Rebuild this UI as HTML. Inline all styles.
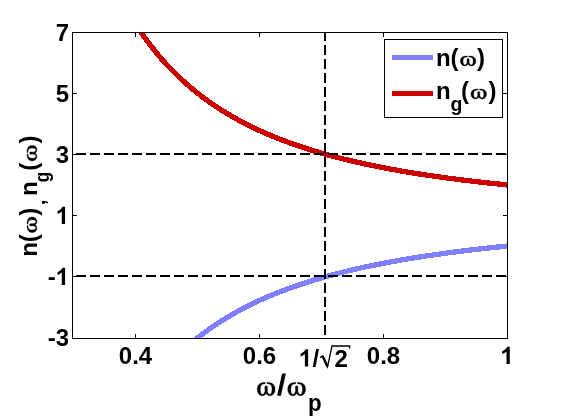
<!DOCTYPE html>
<html><head><meta charset="utf-8"><style>
html,body{margin:0;padding:0;background:#fff;}
body{width:561px;height:420px;overflow:hidden;position:relative;font-family:"Liberation Sans",sans-serif;}
svg{position:absolute;left:0;top:0;will-change:transform;}
text{font-family:"Liberation Sans",sans-serif;font-weight:bold;font-size:24px;fill:#000;}
</style></head><body>
<svg width="561" height="420" viewBox="0 0 561 420">
<rect width="561" height="420" fill="#fff"/>
<clipPath id="c"><rect x="73" y="33" width="434" height="305"/></clipPath>
<g clip-path="url(#c)" fill="none" stroke-width="5.3" stroke-linejoin="round" shape-rendering="crispEdges">
<path d="M191.80,342.53 L193.39,341.21 L194.98,339.91 L196.57,338.64 L198.16,337.38 L199.74,336.14 L201.33,334.92 L202.92,333.72 L204.51,332.53 L206.10,331.37 L207.69,330.22 L209.28,329.08 L210.87,327.97 L212.46,326.87 L214.05,325.79 L215.63,324.72 L217.22,323.67 L218.81,322.63 L220.40,321.61 L221.99,320.60 L223.58,319.61 L225.17,318.63 L226.76,317.67 L228.35,316.71 L229.93,315.78 L231.52,314.85 L233.11,313.94 L234.70,313.04 L236.29,312.15 L237.88,311.27 L239.47,310.41 L241.06,309.56 L242.65,308.72 L244.24,307.89 L245.82,307.07 L247.41,306.26 L249.00,305.46 L250.59,304.68 L252.18,303.90 L253.77,303.13 L255.36,302.38 L256.95,301.63 L258.54,300.89 L260.12,300.17 L261.71,299.45 L263.30,298.74 L264.89,298.04 L266.48,297.35 L268.07,296.66 L269.66,295.99 L271.25,295.32 L272.84,294.66 L274.43,294.01 L276.01,293.37 L277.60,292.74 L279.19,292.11 L280.78,291.49 L282.37,290.88 L283.96,290.28 L285.55,289.68 L287.14,289.09 L288.73,288.51 L290.31,287.94 L291.90,287.37 L293.49,286.80 L295.08,286.25 L296.67,285.70 L298.26,285.16 L299.85,284.62 L301.44,284.09 L303.03,283.57 L304.62,283.05 L306.20,282.54 L307.79,282.03 L309.38,281.53 L310.97,281.03 L312.56,280.54 L314.15,280.06 L315.74,279.58 L317.33,279.11 L318.92,278.64 L320.50,278.18 L322.09,277.72 L323.68,277.27 L325.27,276.82 L326.86,276.37 L328.45,275.94 L330.04,275.50 L331.63,275.07 L333.22,274.65 L334.81,274.23 L336.39,273.81 L337.98,273.40 L339.57,272.99 L341.16,272.59 L342.75,272.19 L344.34,271.80 L345.93,271.41 L347.52,271.02 L349.11,270.64 L350.69,270.26 L352.28,269.89 L353.87,269.52 L355.46,269.15 L357.05,268.79 L358.64,268.43 L360.23,268.08 L361.82,267.72 L363.41,267.37 L364.99,267.03 L366.58,266.69 L368.17,266.35 L369.76,266.01 L371.35,265.68 L372.94,265.35 L374.53,265.03 L376.12,264.71 L377.71,264.39 L379.30,264.07 L380.88,263.76 L382.47,263.45 L384.06,263.14 L385.65,262.84 L387.24,262.54 L388.83,262.24 L390.42,261.95 L392.01,261.65 L393.60,261.36 L395.18,261.08 L396.77,260.79 L398.36,260.51 L399.95,260.23 L401.54,259.96 L403.13,259.68 L404.72,259.41 L406.31,259.14 L407.90,258.88 L409.49,258.61 L411.07,258.35 L412.66,258.09 L414.25,257.83 L415.84,257.58 L417.43,257.33 L419.02,257.08 L420.61,256.83 L422.20,256.58 L423.79,256.34 L425.37,256.10 L426.96,255.86 L428.55,255.62 L430.14,255.39 L431.73,255.16 L433.32,254.93 L434.91,254.70 L436.50,254.47 L438.09,254.25 L439.68,254.02 L441.26,253.80 L442.85,253.58 L444.44,253.37 L446.03,253.15 L447.62,252.94 L449.21,252.72 L450.80,252.52 L452.39,252.31 L453.98,252.10 L455.56,251.90 L457.15,251.69 L458.74,251.49 L460.33,251.29 L461.92,251.09 L463.51,250.90 L465.10,250.70 L466.69,250.51 L468.28,250.32 L469.87,250.13 L471.45,249.94 L473.04,249.75 L474.63,249.57 L476.22,249.38 L477.81,249.20 L479.40,249.02 L480.99,248.84 L482.58,248.66 L484.17,248.49 L485.75,248.31 L487.34,248.14 L488.93,247.97 L490.52,247.80 L492.11,247.63 L493.70,247.46 L495.29,247.29 L496.88,247.12 L498.47,246.96 L500.06,246.80 L501.64,246.64 L503.23,246.47 L504.82,246.32 L506.41,246.16 L508.00,246.00" stroke="#8080ff"/>
<path d="M136.00,24.88 L137.56,27.25 L139.11,29.57 L140.67,31.86 L142.23,34.10 L143.78,36.30 L145.34,38.46 L146.90,40.58 L148.45,42.67 L150.01,44.71 L151.56,46.72 L153.12,48.70 L154.68,50.64 L156.23,52.55 L157.79,54.42 L159.35,56.27 L160.90,58.08 L162.46,59.86 L164.02,61.61 L165.57,63.33 L167.13,65.02 L168.69,66.69 L170.24,68.32 L171.80,69.93 L173.36,71.52 L174.91,73.08 L176.47,74.61 L178.03,76.12 L179.58,77.60 L181.14,79.06 L182.69,80.50 L184.25,81.91 L185.81,83.31 L187.36,84.68 L188.92,86.03 L190.48,87.36 L192.03,88.66 L193.59,89.95 L195.15,91.22 L196.70,92.47 L198.26,93.70 L199.82,94.92 L201.37,96.11 L202.93,97.29 L204.49,98.45 L206.04,99.59 L207.60,100.72 L209.15,101.83 L210.71,102.92 L212.27,104.00 L213.82,105.06 L215.38,106.11 L216.94,107.14 L218.49,108.16 L220.05,109.17 L221.61,110.16 L223.16,111.13 L224.72,112.09 L226.28,113.04 L227.83,113.98 L229.39,114.90 L230.95,115.81 L232.50,116.71 L234.06,117.60 L235.62,118.47 L237.17,119.34 L238.73,120.19 L240.28,121.03 L241.84,121.86 L243.40,122.68 L244.95,123.48 L246.51,124.28 L248.07,125.07 L249.62,125.85 L251.18,126.61 L252.74,127.37 L254.29,128.12 L255.85,128.86 L257.41,129.58 L258.96,130.30 L260.52,131.01 L262.08,131.72 L263.63,132.41 L265.19,133.09 L266.74,133.77 L268.30,134.44 L269.86,135.10 L271.41,135.75 L272.97,136.39 L274.53,137.03 L276.08,137.65 L277.64,138.28 L279.20,138.89 L280.75,139.49 L282.31,140.09 L283.87,140.69 L285.42,141.27 L286.98,141.85 L288.54,142.42 L290.09,142.98 L291.65,143.54 L293.21,144.09 L294.76,144.64 L296.32,145.18 L297.87,145.71 L299.43,146.24 L300.99,146.76 L302.54,147.28 L304.10,147.78 L305.66,148.29 L307.21,148.79 L308.77,149.28 L310.33,149.77 L311.88,150.25 L313.44,150.72 L315.00,151.20 L316.55,151.66 L318.11,152.12 L319.67,152.58 L321.22,153.03 L322.78,153.48 L324.33,153.92 L325.89,154.36 L327.45,154.79 L329.00,155.22 L330.56,155.64 L332.12,156.06 L333.67,156.47 L335.23,156.88 L336.79,157.29 L338.34,157.69 L339.90,158.09 L341.46,158.48 L343.01,158.87 L344.57,159.26 L346.13,159.64 L347.68,160.02 L349.24,160.39 L350.79,160.76 L352.35,161.13 L353.91,161.49 L355.46,161.85 L357.02,162.20 L358.58,162.56 L360.13,162.90 L361.69,163.25 L363.25,163.59 L364.80,163.93 L366.36,164.26 L367.92,164.60 L369.47,164.92 L371.03,165.25 L372.59,165.57 L374.14,165.89 L375.70,166.21 L377.26,166.52 L378.81,166.83 L380.37,167.14 L381.92,167.44 L383.48,167.74 L385.04,168.04 L386.59,168.34 L388.15,168.63 L389.71,168.92 L391.26,169.21 L392.82,169.49 L394.38,169.78 L395.93,170.06 L397.49,170.33 L399.05,170.61 L400.60,170.88 L402.16,171.15 L403.72,171.42 L405.27,171.68 L406.83,171.95 L408.38,172.21 L409.94,172.46 L411.50,172.72 L413.05,172.97 L414.61,173.22 L416.17,173.47 L417.72,173.72 L419.28,173.96 L420.84,174.21 L422.39,174.45 L423.95,174.68 L425.51,174.92 L427.06,175.15 L428.62,175.39 L430.18,175.62 L431.73,175.84 L433.29,176.07 L434.85,176.29 L436.40,176.52 L437.96,176.74 L439.51,176.95 L441.07,177.17 L442.63,177.39 L444.18,177.60 L445.74,177.81 L447.30,178.02 L448.85,178.23 L450.41,178.43 L451.97,178.64 L453.52,178.84 L455.08,179.04 L456.64,179.24 L458.19,179.44 L459.75,179.63 L461.31,179.83 L462.86,180.02 L464.42,180.21 L465.97,180.40 L467.53,180.59 L469.09,180.78 L470.64,180.96 L472.20,181.15 L473.76,181.33 L475.31,181.51 L476.87,181.69 L478.43,181.87 L479.98,182.04 L481.54,182.22 L483.10,182.39 L484.65,182.57 L486.21,182.74 L487.77,182.91 L489.32,183.08 L490.88,183.24 L492.44,183.41 L493.99,183.57 L495.55,183.74 L497.10,183.90 L498.66,184.06 L500.22,184.22 L501.77,184.38 L503.33,184.54 L504.89,184.69 L506.44,184.85 L508.00,185.00" stroke="#cc0000"/>
</g>
<g clip-path="url(#c)" stroke="#000" stroke-width="2" stroke-dasharray="10,4" fill="none" shape-rendering="crispEdges">
<path d="M62,154 H508"/>
<path d="M62,276 H508"/>
<path d="M325,31 V340"/>
</g>
<g stroke="#000" stroke-width="1" fill="none" shape-rendering="crispEdges">
<rect x="72.5" y="32.5" width="435.0" height="306.0"/>
<path d="M135.5,338.5 V334.0 M135.5,32.5 V37.0"/><path d="M259.5,338.5 V334.0 M259.5,32.5 V37.0"/><path d="M383.5,338.5 V334.0 M383.5,32.5 V37.0"/><path d="M72.5,93.5 H77.0 M507.5,93.5 H503.0"/><path d="M72.5,154.5 H77.0 M507.5,154.5 H503.0"/><path d="M72.5,215.5 H77.0 M507.5,215.5 H503.0"/><path d="M72.5,276.5 H77.0 M507.5,276.5 H503.0"/>
</g>
<g text-anchor="end">
<text x="69" y="41">7</text><text x="69" y="102">5</text><text x="69" y="163">3</text><text x="69" y="346">-3</text><path d="M806,0 H525 V1059 Q371,915 162,846 V1101 Q272,1137 401,1237.5 Q530,1338 578,1472 H806 Z" transform="translate(55.65,224) scale(0.011719,-0.011719)" fill="#000"/><path d="M806,0 H525 V1059 Q371,915 162,846 V1101 Q272,1137 401,1237.5 Q530,1338 578,1472 H806 Z" transform="translate(55.65,285) scale(0.011719,-0.011719)" fill="#000"/><text x="55.65" y="285">-</text>
</g>
<g text-anchor="middle">
<text x="135.5" y="364">0.4</text>
<text x="259.5" y="364">0.6</text>
<text x="383.5" y="364">0.8</text>

</g>
<path d="M806,0 H525 V1059 Q371,915 162,846 V1101 Q272,1137 401,1237.5 Q530,1338 578,1472 H806 Z" transform="translate(500.33,364) scale(0.011719,-0.011719)" fill="#000"/><path d="M806,0 H525 V1059 Q371,915 162,846 V1101 Q272,1137 401,1237.5 Q530,1338 578,1472 H806 Z" transform="translate(298.7,366.5) scale(0.011719,-0.011719)" fill="#000"/><text x="312.6" y="366.5">/</text>
<path d="M320,357.6 l2.6,-1.6 l4.9,11 l4.5,-21 h17.6 v2.6" stroke="#000" stroke-width="1.3" fill="none"/><path d="M322.8,356.2 l4.6,10.2" stroke="#000" stroke-width="2.4" fill="none"/>
<text x="334.5" y="366.5">2</text>
<path d="M8.1,0.2 C5.5,0 2.5,0.8 1.2,2.8 C0.2,4.3 0,6 0,7.5 C0,10.5 1.8,14 5,14 C7.2,14 8.4,12.6 9,11.4 C9.6,12.6 10.8,14 13,14 C16.2,14 18,10.5 18,7.5 C18,6 17.8,4.3 16.8,2.8 C15.5,0.8 12.5,0 9.9,0.2 L10,1.5 C12,1.3 13.7,2 14.4,3.6 C14.9,5 15,6.3 15,7.5 C15,10 14.2,12.7 12.8,12.7 C11.4,12.7 10.2,10.8 10.1,8.6 L10.3,5.8 C10.3,4.5 9.8,3.6 9,3.6 C8.2,3.6 7.7,4.5 7.7,5.8 L7.9,8.6 C7.8,10.8 6.6,12.7 5.2,12.7 C3.8,12.7 3,10 3,7.5 C3,6.3 3.1,5 3.6,3.6 C4.3,2 6,1.3 8,1.5 Z" transform="translate(257.3,382.3) scale(0.9833,0.9571)" fill="#000" stroke="#000" stroke-width="0.45" vector-effect="non-scaling-stroke" stroke-linejoin="round"/>
<path d="M277.1,395.8 H280.9 L285.9,373.5 H282.1 Z" fill="#000"/>
<path d="M8.1,0.2 C5.5,0 2.5,0.8 1.2,2.8 C0.2,4.3 0,6 0,7.5 C0,10.5 1.8,14 5,14 C7.2,14 8.4,12.6 9,11.4 C9.6,12.6 10.8,14 13,14 C16.2,14 18,10.5 18,7.5 C18,6 17.8,4.3 16.8,2.8 C15.5,0.8 12.5,0 9.9,0.2 L10,1.5 C12,1.3 13.7,2 14.4,3.6 C14.9,5 15,6.3 15,7.5 C15,10 14.2,12.7 12.8,12.7 C11.4,12.7 10.2,10.8 10.1,8.6 L10.3,5.8 C10.3,4.5 9.8,3.6 9,3.6 C8.2,3.6 7.7,4.5 7.7,5.8 L7.9,8.6 C7.8,10.8 6.6,12.7 5.2,12.7 C3.8,12.7 3,10 3,7.5 C3,6.3 3.1,5 3.6,3.6 C4.3,2 6,1.3 8,1.5 Z" transform="translate(287.8,382.3) scale(0.9833,0.9571)" fill="#000" stroke="#000" stroke-width="0.45" vector-effect="non-scaling-stroke" stroke-linejoin="round"/>
<g transform="translate(308,0) scale(0.93,1) translate(-308,0)"><text x="308" y="411.3" style="font-size:24px" >p</text></g>
<g transform="translate(37,255) rotate(-90)">
<text x="-1.8" y="0" style="font-size:24px" >n</text><text x="12.7" y="0" style="font-size:24px" >(</text><path d="M8.1,0.2 C5.5,0 2.5,0.8 1.2,2.8 C0.2,4.3 0,6 0,7.5 C0,10.5 1.8,14 5,14 C7.2,14 8.4,12.6 9,11.4 C9.6,12.6 10.8,14 13,14 C16.2,14 18,10.5 18,7.5 C18,6 17.8,4.3 16.8,2.8 C15.5,0.8 12.5,0 9.9,0.2 L10,1.5 C12,1.3 13.7,2 14.4,3.6 C14.9,5 15,6.3 15,7.5 C15,10 14.2,12.7 12.8,12.7 C11.4,12.7 10.2,10.8 10.1,8.6 L10.3,5.8 C10.3,4.5 9.8,3.6 9,3.6 C8.2,3.6 7.7,4.5 7.7,5.8 L7.9,8.6 C7.8,10.8 6.6,12.7 5.2,12.7 C3.8,12.7 3,10 3,7.5 C3,6.3 3.1,5 3.6,3.6 C4.3,2 6,1.3 8,1.5 Z" transform="translate(22.5,-10.0) scale(0.8556,0.7071)" fill="#000" stroke="#000" stroke-width="0.45" vector-effect="non-scaling-stroke" stroke-linejoin="round"/><text x="39.2" y="0" style="font-size:24px" >)</text>
<text x="50.0" y="7.5" style="font-size:19.5px" >,</text>
<text x="59.1" y="0" style="font-size:24px" >n</text><g transform="translate(72.70,0) scale(0.87,1) translate(-72.70,0)"><text x="72.69999999999999" y="12.3" style="font-size:19.5px" >g</text></g><text x="84.19999999999999" y="0" style="font-size:24px" >(</text><path d="M8.1,0.2 C5.5,0 2.5,0.8 1.2,2.8 C0.2,4.3 0,6 0,7.5 C0,10.5 1.8,14 5,14 C7.2,14 8.4,12.6 9,11.4 C9.6,12.6 10.8,14 13,14 C16.2,14 18,10.5 18,7.5 C18,6 17.8,4.3 16.8,2.8 C15.5,0.8 12.5,0 9.9,0.2 L10,1.5 C12,1.3 13.7,2 14.4,3.6 C14.9,5 15,6.3 15,7.5 C15,10 14.2,12.7 12.8,12.7 C11.4,12.7 10.2,10.8 10.1,8.6 L10.3,5.8 C10.3,4.5 9.8,3.6 9,3.6 C8.2,3.6 7.7,4.5 7.7,5.8 L7.9,8.6 C7.8,10.8 6.6,12.7 5.2,12.7 C3.8,12.7 3,10 3,7.5 C3,6.3 3.1,5 3.6,3.6 C4.3,2 6,1.3 8,1.5 Z" transform="translate(94.1,-10.0) scale(0.8611,0.7071)" fill="#000" stroke="#000" stroke-width="0.45" vector-effect="non-scaling-stroke" stroke-linejoin="round"/><text x="111.5" y="0" style="font-size:24px" >)</text>
</g>
<rect x="384.5" y="39.5" width="118" height="78" fill="#fff" stroke="#000" stroke-width="1" shape-rendering="crispEdges"/>
<path d="M392,57.5 H433" stroke="#8080ff" stroke-width="5" shape-rendering="crispEdges"/>
<path d="M392,93.5 H433" stroke="#cc0000" stroke-width="5" shape-rendering="crispEdges"/>
<g transform="translate(437.9,66)"><text x="-1.8" y="0" style="font-size:24px" >n</text><text x="12.7" y="0" style="font-size:24px" >(</text><path d="M8.1,0.2 C5.5,0 2.5,0.8 1.2,2.8 C0.2,4.3 0,6 0,7.5 C0,10.5 1.8,14 5,14 C7.2,14 8.4,12.6 9,11.4 C9.6,12.6 10.8,14 13,14 C16.2,14 18,10.5 18,7.5 C18,6 17.8,4.3 16.8,2.8 C15.5,0.8 12.5,0 9.9,0.2 L10,1.5 C12,1.3 13.7,2 14.4,3.6 C14.9,5 15,6.3 15,7.5 C15,10 14.2,12.7 12.8,12.7 C11.4,12.7 10.2,10.8 10.1,8.6 L10.3,5.8 C10.3,4.5 9.8,3.6 9,3.6 C8.2,3.6 7.7,4.5 7.7,5.8 L7.9,8.6 C7.8,10.8 6.6,12.7 5.2,12.7 C3.8,12.7 3,10 3,7.5 C3,6.3 3.1,5 3.6,3.6 C4.3,2 6,1.3 8,1.5 Z" transform="translate(22.5,-10.0) scale(0.8556,0.7071)" fill="#000" stroke="#000" stroke-width="0.45" vector-effect="non-scaling-stroke" stroke-linejoin="round"/><text x="39.2" y="0" style="font-size:24px" >)</text></g>
<g transform="translate(437.8,99)"><text x="-1.8" y="0" style="font-size:24px" >n</text><g transform="translate(12.70,0) scale(1,1) translate(-12.70,0)"><text x="12.7" y="12.3" style="font-size:19.5px" >g</text></g><text x="23.3" y="0" style="font-size:24px" >(</text><path d="M8.1,0.2 C5.5,0 2.5,0.8 1.2,2.8 C0.2,4.3 0,6 0,7.5 C0,10.5 1.8,14 5,14 C7.2,14 8.4,12.6 9,11.4 C9.6,12.6 10.8,14 13,14 C16.2,14 18,10.5 18,7.5 C18,6 17.8,4.3 16.8,2.8 C15.5,0.8 12.5,0 9.9,0.2 L10,1.5 C12,1.3 13.7,2 14.4,3.6 C14.9,5 15,6.3 15,7.5 C15,10 14.2,12.7 12.8,12.7 C11.4,12.7 10.2,10.8 10.1,8.6 L10.3,5.8 C10.3,4.5 9.8,3.6 9,3.6 C8.2,3.6 7.7,4.5 7.7,5.8 L7.9,8.6 C7.8,10.8 6.6,12.7 5.2,12.7 C3.8,12.7 3,10 3,7.5 C3,6.3 3.1,5 3.6,3.6 C4.3,2 6,1.3 8,1.5 Z" transform="translate(33.199999999999996,-10.0) scale(0.8611,0.7071)" fill="#000" stroke="#000" stroke-width="0.45" vector-effect="non-scaling-stroke" stroke-linejoin="round"/><text x="50.6" y="0" style="font-size:24px" >)</text></g>
</svg>
</body></html>
